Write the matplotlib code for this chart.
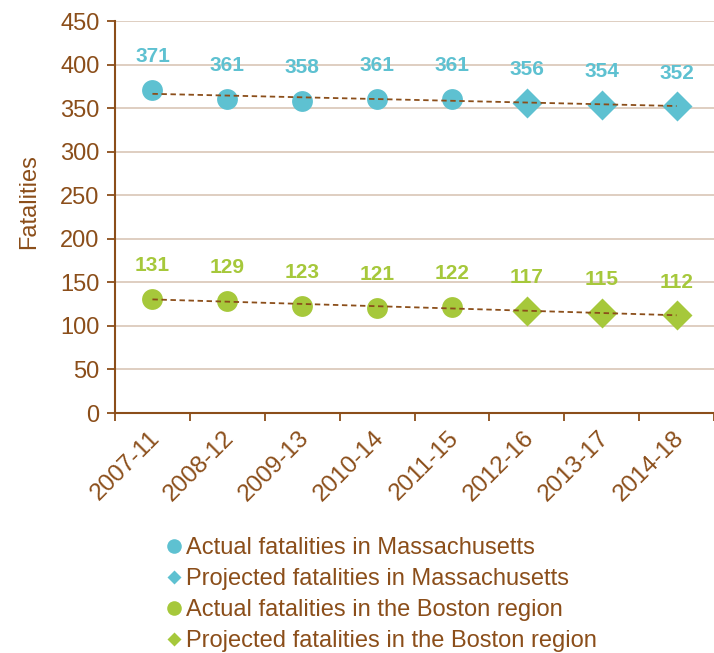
import numpy as np
import matplotlib
matplotlib.use("Agg")
import matplotlib.pyplot as plt
from matplotlib.lines import Line2D
from matplotlib.transforms import ScaledTranslation

periods = ["2007-11", "2008-12", "2009-13", "2010-14", "2011-15", "2012-16", "2013-17", "2014-18"]
ma_actual = [371, 361, 358, 361, 361]
ma_projected = [356, 354, 352]
boston_actual = [131, 129, 123, 121, 122]
boston_projected = [117, 115, 112]

BROWN = "#8B4E1A"
CYAN = "#5EC1D1"
GREEN = "#A6C83B"
GRID = "#DCCABC"

plt.rcParams["font.family"] = ["Liberation Sans", "DejaVu Sans"]

fig = plt.figure(figsize=(7.14, 6.53), dpi=100)
ax = fig.add_axes([115 / 714, 1 - 413 / 653, (714 - 115) / 714, (413 - 21) / 653])

n_act = len(ma_actual)
x_act = np.arange(n_act)
x_proj = np.arange(n_act, n_act + len(ma_projected))
x_all = np.arange(len(periods))

for act, proj, color in [(ma_actual, ma_projected, CYAN), (boston_actual, boston_projected, GREEN)]:
    # linear trend fitted to the actual values, extended over the projection years
    slope, intercept = np.polyfit(x_act, act, 1)
    ax.plot(x_all, slope * x_all + intercept, ls=(0, (3, 2)), color=BROWN, lw=1.3, zorder=3)
    ax.plot(x_act, act, "o", color=color, ms=15, mec="none", zorder=2)
    ax.plot(x_proj, proj, "D", color=color, ms=15.5, mec="none", zorder=2)
    for x, v in zip(x_all, list(act) + list(proj)):
        ax.annotate(str(v), (x, v), xytext=(0, 24), textcoords="offset points",
                    ha="center", va="center", color=color, fontsize=15, fontweight="bold")

ax.set_ylim(0, 450)
ax.set_yticks(np.arange(0, 451, 50))
ax.set_xlim(-0.5, (714 - 115) / 75.5 - 0.5)
ax.set_xticks(np.arange(len(periods) + 1) - 0.5)
ax.set_xticklabels([""] * (len(periods) + 1))
ax.set_xticks(x_all, minor=True)
ax.set_xticklabels(periods, minor=True, rotation=45, ha="right", rotation_mode="anchor")
ax.tick_params(axis="x", which="minor", length=0, labelsize=17.5, labelcolor=BROWN, pad=10)
ax.tick_params(axis="x", which="major", length=6, color=BROWN, width=1.3)
ax.tick_params(axis="y", length=6, color=BROWN, width=1.3, labelsize=17, labelcolor=BROWN, pad=5)
shift = ScaledTranslation(-4 / 100, 0, fig.dpi_scale_trans)
for lbl in ax.get_xticklabels(minor=True):
    lbl.set_transform(lbl.get_transform() + shift)
ax.grid(axis="y", color=GRID, lw=1.3)
ax.set_axisbelow(True)
for side in ["top", "right"]:
    ax.spines[side].set_visible(False)
for side in ["left", "bottom"]:
    ax.spines[side].set_color(BROWN)
    ax.spines[side].set_linewidth(1.5)
ax.set_ylabel("Fatalities", color=BROWN, fontsize=17)
ax.yaxis.set_label_coords(-0.125, 0.54)

handles = [
    Line2D([], [], ls="none", marker="o", color=CYAN, ms=10.5, mec="none"),
    Line2D([], [], ls="none", marker="D", color=CYAN, ms=7, mec="none"),
    Line2D([], [], ls="none", marker="o", color=GREEN, ms=10.5, mec="none"),
    Line2D([], [], ls="none", marker="D", color=GREEN, ms=7, mec="none"),
]
labels = [
    "Actual fatalities in Massachusetts",
    "Projected fatalities in Massachusetts",
    "Actual fatalities in the Boston region",
    "Projected fatalities in the Boston region",
]
leg = fig.legend(handles, labels, loc="upper left", bbox_to_anchor=(167 / 714, 1 - 537 / 653),
                 frameon=False, fontsize=17, handlelength=0.6, handletextpad=0.2,
                 labelspacing=0.38, borderpad=0, borderaxespad=0)
for t in leg.get_texts():
    t.set_color(BROWN)

fig.savefig("out.png", dpi=100)
